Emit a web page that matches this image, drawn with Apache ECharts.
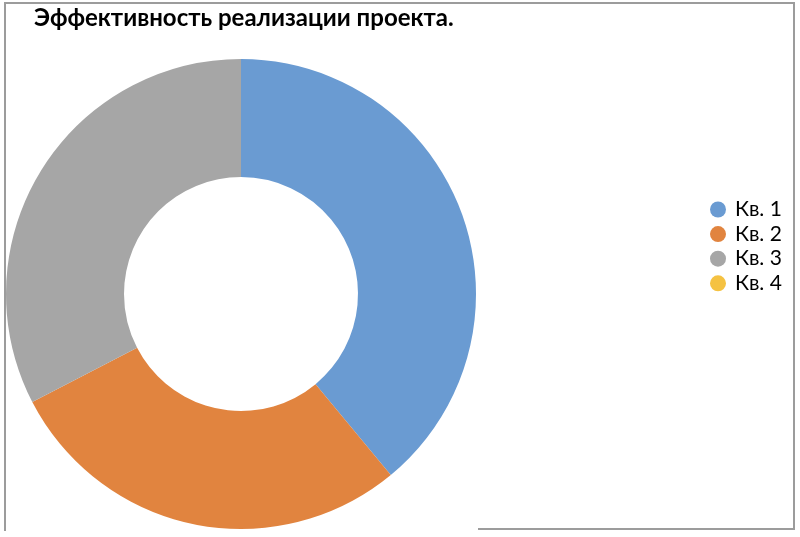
<!DOCTYPE html>
<html><head><meta charset="utf-8">
<script src="https://cdn.jsdelivr.net/npm/echarts@6/dist/echarts.min.js"></script>
<style>html,body{margin:0;padding:0;background:#fff}#c{width:800px;height:537px}</style>
</head><body><div id="c"></div>
<script>
const titleText = 'Эффективность реализации проекта.';
const categories = ['Кв. 1', 'Кв. 2', 'Кв. 3', 'Кв. 4'];
const values = [39, 28.4, 32.6, 0];
const colors = ['#6a9bd2', '#e1843f', '#a6a6a6', '#f5c242'];

const chart = echarts.init(document.getElementById('c'), null, {renderer: 'canvas'});
chart.setOption({
  animation: false,
  backgroundColor: '#fff',
  color: colors,
  title: {
    text: titleText, left: 29, top: 1,
    textStyle: {fontFamily: 'Lato', fontWeight: 'bold', fontSize: 24, color: '#000'}
  },
  legend: {
    orient: 'vertical', left: 705, top: 194,
    itemWidth: 16, itemHeight: 16, itemGap: 3.6, icon: 'circle',
    data: categories,
    textStyle: {fontFamily: 'Lato', fontSize: 21, lineHeight: 20, color: '#000', padding: [0, 0, 0, 4]}
  },
  graphic: [
    {type: 'polyline', shape: {points: [[478, 529], [794, 529], [794, 3], [5, 3], [5, 531]]},
     style: {stroke: '#9c9c9c', lineWidth: 2, fill: null}, silent: true}
  ],
  series: [{
    type: 'pie',
    center: [241, 294],
    radius: [117, 235],
    startAngle: 90,
    clockwise: true,
    label: {show: false},
    labelLine: {show: false},
    itemStyle: {borderWidth: 0},
    emphasis: {disabled: true},
    data: categories.map((n, i) => ({name: n, value: values[i]}))
  }]
});
</script></body></html>
